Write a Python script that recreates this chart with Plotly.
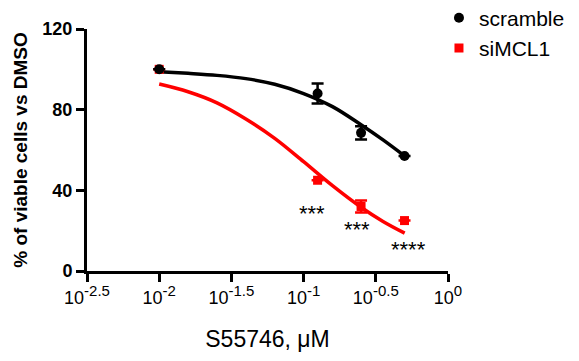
import plotly.graph_objects as go

# Data
doses = [0.01, 0.125, 0.25, 0.5]
scramble = [100, 88, 68.5, 57]
scramble_err = [None, 5, 3.3, None]
simcl1 = [100, 45, 32, 25]
simcl1_err = [None, None, 3, None]

# fitted curves, log10 dose
curve_logx = [-2.0, -1.8, -1.6, -1.4, -1.2, -1.0, -0.8, -0.6, -0.45, -0.3]
scramble_fit = [98.8, 98.0, 97.0, 95.4, 92.6, 88.0, 81.5, 72.4, 65.0, 57.0]
simcl1_fit = [92.7, 88.9, 83.4, 75.4, 65.8, 54.2, 42.3, 31.5, 24.6, 18.8]

stars = ["***", "***", "****"]
star_logx = [-0.942, -0.630, -0.277]
star_y = [28.5, 20.5, 10.6]

xtick_logs = [-2.5, -2, -1.5, -1, -0.5, 0]
xtick_exps = ["-2.5", "-2", "-1.5", "-1", "-0.5", "0"]
xtick_text = ["10<sup><span style='font-size:15px'>%s</span></sup>" % e for e in xtick_exps]
ytick_vals = [0, 40, 80, 120]

FONT = "Arial, Liberation Sans, sans-serif"

fig = go.Figure()

fig.add_trace(go.Scatter(
    x=[10 ** v for v in curve_logx], y=simcl1_fit, mode="lines",
    line=dict(color="#ff0000", width=3.5, shape="spline"), showlegend=False, hoverinfo="skip"))
fig.add_trace(go.Scatter(
    x=[10 ** v for v in curve_logx], y=scramble_fit, mode="lines",
    line=dict(color="#000000", width=3.5, shape="spline"), showlegend=False, hoverinfo="skip"))

fig.add_trace(go.Scatter(
    x=doses, y=simcl1, mode="markers", name="siMCL1", legendrank=2,
    marker=dict(symbol="square", size=9, color="#ff0000"),
    error_y=dict(type="data", array=simcl1_err, color="#ff0000", thickness=2.5, width=6)))
fig.add_trace(go.Scatter(
    x=doses, y=scramble, mode="markers", name="scramble", legendrank=1,
    marker=dict(symbol="circle", size=10, color="#000000"),
    error_y=dict(type="data", array=scramble_err, color="#000000", thickness=2.5, width=6)))

for t, lx, yy in zip(stars, star_logx, star_y):
    fig.add_annotation(x=lx, y=yy, text=t, showarrow=False, xref="x", yref="y",
                       font=dict(family=FONT, size=22, color="black"))

fig.update_layout(
    width=579, height=361,
    margin=dict(l=87, r=131, t=29, b=90, autoexpand=False),
    paper_bgcolor="white", plot_bgcolor="white",
    font=dict(family=FONT, color="black"),
    legend=dict(x=0.975, y=1.13, xanchor="left", yanchor="top",
                font=dict(size=21, family=FONT), bgcolor="rgba(0,0,0,0)",
                itemwidth=30, tracegroupgap=0),
    showlegend=True,
)

fig.update_xaxes(
    type="log", range=[-2.5, 0], tickmode="array",
    tickvals=[10 ** v for v in xtick_logs], ticktext=xtick_text,
    showline=True, linecolor="black", linewidth=3,
    ticks="outside", ticklen=8, tickwidth=3, tickcolor="black",
    showgrid=False, zeroline=False, automargin=False,
    tickfont=dict(size=18, family=FONT),
    title=dict(text="S55746, \u03bcM", font=dict(size=23, family=FONT), standoff=25),
)
fig.update_yaxes(
    range=[0, 120], tickmode="array", tickvals=ytick_vals,
    showline=True, linecolor="black", linewidth=3,
    ticks="outside", ticklen=8, tickwidth=3, tickcolor="black",
    showgrid=False, zeroline=False, automargin=False,
    tickfont=dict(size=18, family=FONT, weight="bold"),
    title=dict(text="% of viable cells vs DMSO", font=dict(size=19, family=FONT, weight="bold"), standoff=10),
)

fig.write_html("out.html", config={"displayModeBar": False},
               post_script="document.body.style.margin='0';")
